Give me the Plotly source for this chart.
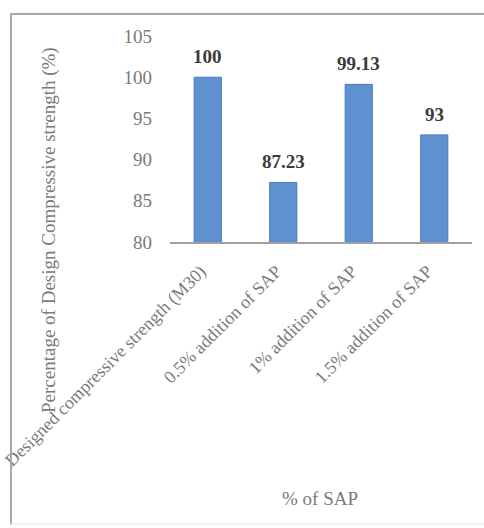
import plotly.graph_objects as go

categories = [
    "Designed compressive strength (M30)",
    "0.5% addition of SAP",
    "1% addition of SAP",
    "1.5% addition of SAP",
]
values = [100, 87.23, 99.13, 93]
value_labels = ["100", "87.23", "99.13", "93"]
y_ticks = [80, 85, 90, 95, 100, 105]

FONT = "Liberation Serif, Times New Roman, serif"

L, T, B = 170, 36, 286
PW, PH = 484 - L - 12, 528 - T - B

fig = go.Figure()
fig.add_trace(go.Bar(
    x=categories, y=values,
    marker=dict(color="#5f91d1", line=dict(color="#4a7bbd", width=1)),
    showlegend=False,
))

for c, v, t in zip(categories, values, value_labels):
    fig.add_annotation(x=c, y=v, text="<b>%s</b>" % t, showarrow=False,
                       yanchor="bottom", yshift=8,
                       font=dict(family=FONT, size=19, color="#3a3a3a"))

fig.update_layout(
    width=484, height=528,
    margin=dict(l=L, r=12, t=T, b=B, autoexpand=False),
    paper_bgcolor="white", plot_bgcolor="white",
    bargap=0.64,
    font=dict(family=FONT, color="#7a7a7a"),
    xaxis=dict(
        tickangle=-45, tickfont=dict(family=FONT, size=18, color="#7a7a7a"),
        showline=True, linecolor="#a0a0a0", linewidth=1.5,
        showgrid=False, ticks="", automargin=False,
        ticklabelstandoff=10, ticklabelshift=-7,
    ),
    yaxis=dict(
        range=[80, 105], tickvals=y_ticks, showgrid=False, zeroline=False,
        showline=False, ticks="", ticklabelstandoff=17, automargin=False,
        tickfont=dict(family=FONT, size=19, color="#7a7a7a"),
    ),
)

def px(xp):
    return (xp - L) / PW

def py(yp):
    return (T + PH - yp) / PH

# y title
fig.add_annotation(xref="paper", yref="paper", x=px(49), y=py(230),
                   text="Percentage of Design Compressive strength (%)", textangle=-90,
                   showarrow=False, xanchor="center", yanchor="middle",
                   font=dict(family=FONT, size=19, color="#7a7a7a"))
# x title
fig.add_annotation(xref="paper", yref="paper", x=px(320), y=py(498),
                   text="% of SAP", showarrow=False, xanchor="center", yanchor="middle",
                   font=dict(family=FONT, size=19, color="#7a7a7a"))

# border
fig.add_shape(type="line", xref="paper", yref="paper", x0=px(10), x1=px(500), y0=py(14), y1=py(14),
              line=dict(color="#a8a8a8", width=2))
fig.add_shape(type="line", xref="paper", yref="paper", x0=px(11), x1=px(11), y0=py(14), y1=py(525),
              line=dict(color="#a8a8a8", width=2))
fig.add_shape(type="line", xref="paper", yref="paper", x0=px(10), x1=px(500), y0=py(524), y1=py(524),
              line=dict(color="#e6e6e6", width=1))

fig.write_html("out.html", config={"displayModeBar": False},
               post_script="document.body.style.margin='0';document.body.style.overflow='hidden';")
